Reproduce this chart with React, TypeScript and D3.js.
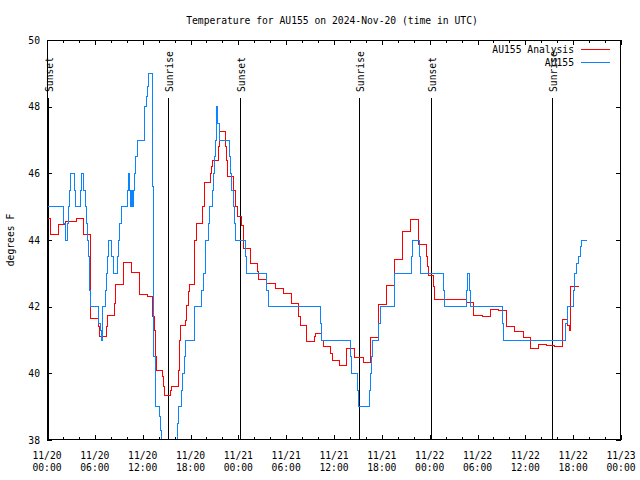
import React from "react";
import * as d3 from "d3";

// Hours since 2024-11-20 00:00 UTC
const analysisHours = [0, 0.46, 1.42, 1.5, 2.38, 3.73, 4.55, 5.48, 6.43, 6.56, 7.49, 7.61, 8.44, 8.62, 9.57, 10.62, 11.58, 12.63, 13.23, 13.46, 13.55, 13.76, 14.46, 14.59, 14.71, 15.43, 15.64, 16.47, 16.65, 16.77, 17.4, 17.56, 17.72, 17.85, 18.56, 18.69, 19.48, 19.73, 20.48, 20.66, 20.78, 21.49, 21.7, 22.42, 22.54, 22.67, 23.42, 23.62, 23.87, 24.42, 24.67, 25.53, 26.38, 26.59, 27.56, 28.6, 29.64, 30.61, 31.52, 31.74, 32.58, 33.53, 33.74, 34.46, 34.66, 35.62, 35.79, 36.67, 37.55, 38.51, 39.68, 40.6, 41.56, 42.61, 43.57, 44.59, 45.6, 46.63, 47.63, 47.76, 47.88, 48.42, 48.58, 49.71, 50.76, 52.65, 53.56, 54.65, 55.57, 56.61, 57.61, 58.7, 59.71, 60.65, 61.65, 62.68, 63.72, 64.64, 65.27, 65.48, 65.64, 66.73];
const analysisValues = [44.65, 44.18, 44.35, 44.48, 44.55, 44.65, 44.18, 41.65, 41.4, 41.1, 41.4, 41.75, 42.1, 42.68, 43.34, 43.02, 42.38, 42.3, 41.7, 41.3, 40.5, 40.1, 39.9, 39.6, 39.35, 39.5, 39.6, 40.1, 41.0, 41.45, 41.6, 42.05, 42.45, 42.68, 44.0, 44.5, 45.0, 45.73, 46.0, 46.2, 46.38, 46.8, 47.25, 46.8, 46.4, 45.92, 45.5, 45.0, 44.72, 44.45, 43.75, 43.3, 43.05, 42.83, 42.7, 42.55, 42.4, 42.1, 41.7, 41.43, 40.96, 41.1, 41.2, 41.0, 40.8, 40.6, 40.4, 40.25, 40.75, 40.47, 40.33, 41.08, 42.07, 42.65, 43.42, 44.25, 44.62, 43.88, 43.5, 43.2, 42.95, 42.6, 42.22, 42.23, 42.22, 42.12, 41.75, 41.72, 41.92, 41.88, 41.4, 41.27, 41.07, 40.75, 40.87, 40.84, 40.82, 41.62, 41.45, 41.3, 42.62, 42.62];

const obsHours = [0, 2.05, 2.26, 2.59, 2.72, 2.85, 2.97, 3.43, 3.55, 4.26, 4.39, 4.6, 4.77, 4.93, 5.1, 5.18, 5.31, 5.39, 5.48, 6.52, 6.73, 6.86, 6.94, 7.32, 7.44, 7.57, 7.74, 8.11, 8.28, 8.82, 8.95, 9.12, 9.32, 10.08, 10.2, 10.33, 10.5, 10.62, 10.75, 10.87, 11.0, 11.12, 11.29, 12.2, 12.29, 12.46, 12.58, 12.71, 13.21, 13.38, 13.67, 14.05, 14.21, 14.4, 16.35, 16.47, 16.81, 16.98, 17.23, 17.35, 18.44, 19.4, 19.65, 19.82, 19.9, 20.24, 20.4, 20.74, 20.86, 20.98, 21.15, 21.24, 21.32, 21.42, 21.58, 22.87, 23.04, 23.2, 23.37, 23.5, 23.62, 24.84, 25.05, 27.56, 27.77, 34.33, 34.46, 38.1, 38.22, 38.97, 39.1, 40.43, 40.6, 40.72, 40.89, 41.56, 41.77, 43.57, 43.65, 45.66, 45.87, 46.73, 46.9, 49.71, 49.92, 52.65, 52.73, 52.97, 53.06, 57.11, 57.24, 65.1, 65.27, 66.02, 66.19, 66.44, 66.64, 66.86, 67.06, 67.7];
const obsValues = [45, 44.5, 44, 44.5, 45, 45.5, 46, 45.5, 45, 45.5, 46, 45.5, 45, 44.5, 44, 43.5, 43, 42.5, 42, 41.5, 41.3, 41, 42, 42.5, 43, 43.5, 44, 43.5, 43, 43.5, 44, 44.5, 45, 45.5, 46, 45.5, 45, 45.5, 45, 45.5, 46, 46.5, 47, 47.5, 48, 48.3, 48.6, 49, 45.6, 40.5, 39, 38.7, 38.3, 37.5, 38.5, 39, 39.5, 40, 40.5, 41, 42, 42.5, 43, 43.5, 44, 44.5, 45, 45.5, 46, 46.5, 47, 47.5, 48, 47.5, 47, 46.5, 46, 45.5, 45, 44.5, 44, 43.5, 43, 42.5, 42, 41.5, 41, 40.5, 40, 39.5, 39, 39.5, 40, 40.5, 41, 41.5, 42, 42.5, 43, 43.5, 44, 43.5, 43, 42.5, 42, 42.5, 43, 42.5, 42, 41.5, 41, 41.5, 42, 42.5, 43, 43.3, 43.5, 43.8, 44, 44];

const sunHours = [0.16, 15.22, 24.25, 39.18, 48.21, 63.31];
const sunLabels = ["Sunset", "Sunrise", "Sunset", "Sunrise", "Sunset", "Sunrise"];

const xTickHours = [0, 6, 12, 18, 24, 30, 36, 42, 48, 54, 60, 66, 72];
const xTickDates = ["11/20", "11/20", "11/20", "11/20", "11/21", "11/21", "11/21", "11/21", "11/22", "11/22", "11/22", "11/22", "11/23"];
const xTickTimes = ["00:00", "06:00", "12:00", "18:00", "00:00", "06:00", "12:00", "18:00", "00:00", "06:00", "12:00", "18:00", "00:00"];
const yTicks = [38, 40, 42, 44, 46, 48, 50];

const seriesNames = ["AU155 Analysis", "AU155"];
const seriesColors = ["#ff0000", "#0a84ff"];

const W = 640, H = 480;
const L = 47, R = 621, T = 40, B = 440;
const FONT = "'DejaVu Sans Mono', monospace";
const FS = 9.7;

export default function App() {
  const x = d3.scaleLinear().domain([0, 72]).range([L, R]);
  const y = d3.scaleLinear().domain([38, 50]).range([B, T]);

  const line = d3
    .line<[number, number]>()
    .x((d) => x(d[0]))
    .y((d) => y(d[1]))
    .curve(d3.curveStepAfter);

  const analysis = analysisHours.map((h, i) => [h, analysisValues[i]] as [number, number]);
  const obs = obsHours.map((h, i) => [h, obsValues[i]] as [number, number]);

  const minor = d3.range(0, 73, 2).filter((h) => h % 6 !== 0);

  return (
    <svg
      width={W}
      height={H}
      style={{ position: "absolute", left: 0, top: 0, background: "#fff" }}
      fontFamily={FONT}
      fontSize={FS}
    >
      <rect x={0} y={0} width={W} height={H} fill="#fff" />
      <text x={332} y={24} textAnchor="middle" fill="#000">
        Temperature for AU155 on 2024-Nov-20 (time in UTC)
      </text>

      <defs>
        <clipPath id="plotclip">
          <rect x={L} y={T} width={R - L} height={B - T} />
        </clipPath>
      </defs>

      {/* y ticks */}
      {yTicks.map((v) => (
        <g key={"y" + v} shapeRendering="crispEdges">
          <line x1={L} x2={L + 5} y1={Math.round(y(v)) + 0.5} y2={Math.round(y(v)) + 0.5} stroke="#000" />
          <line x1={R - 5} x2={R} y1={Math.round(y(v)) + 0.5} y2={Math.round(y(v)) + 0.5} stroke="#000" />
          <text x={40} y={y(v) + 3.5} textAnchor="end" fill="#000">
            {v}
          </text>
        </g>
      ))}

      {/* x ticks */}
      {xTickHours.map((h, i) => (
        <g key={"x" + h} shapeRendering="crispEdges">
          <line x1={Math.round(x(h)) + 0.5} x2={Math.round(x(h)) + 0.5} y1={B} y2={B - 5} stroke="#000" />
          <line x1={Math.round(x(h)) + 0.5} x2={Math.round(x(h)) + 0.5} y1={T} y2={T + 5} stroke="#000" />
          <text x={x(h)} y={459} textAnchor="middle" fill="#000">
            {xTickDates[i]}
          </text>
          <text x={x(h)} y={471} textAnchor="middle" fill="#000">
            {xTickTimes[i]}
          </text>
        </g>
      ))}
      {minor.map((h) => (
        <g key={"m" + h} shapeRendering="crispEdges">
          <line x1={Math.round(x(h)) + 0.5} x2={Math.round(x(h)) + 0.5} y1={B} y2={B - 3} stroke="#000" />
          <line x1={Math.round(x(h)) + 0.5} x2={Math.round(x(h)) + 0.5} y1={T} y2={T + 3} stroke="#000" />
        </g>
      ))}

      {/* sunrise / sunset */}
      {sunHours.map((h, i) => (
        <g key={"s" + i}>
          <line
            x1={Math.round(x(h)) + 0.5}
            x2={Math.round(x(h)) + 0.5}
            y1={98}
            y2={B}
            stroke="#000"
            shapeRendering="crispEdges"
          />
          <text transform={`translate(${x(h) + 5},92) rotate(-90)`} textAnchor="start" fill="#000">
            {sunLabels[i]}
          </text>
        </g>
      ))}

      {/* data */}
      <g clipPath="url(#plotclip)" fill="none" shapeRendering="crispEdges">
        <path d={line(analysis) || ""} stroke={seriesColors[0]} strokeWidth={1} />
        <path d={line(obs) || ""} stroke={seriesColors[1]} strokeWidth={1} />
      </g>

      {/* border */}
      <rect x={L + 0.5} y={T + 0.5} width={R - L - 1} height={B - T - 1} fill="none" stroke="#000" shapeRendering="crispEdges" />

      {/* y label */}
      <text transform={`translate(14,240) rotate(-90)`} textAnchor="middle" fill="#000">
        degrees F
      </text>

      {/* legend */}
      {seriesNames.map((n, i) => (
        <g key={n}>
          <text x={574} y={53 + i * 13} textAnchor="end" fill="#000">
            {n}
          </text>
          <line
            x1={581}
            x2={610}
            y1={49.5 + i * 13}
            y2={49.5 + i * 13}
            stroke={seriesColors[i]}
            shapeRendering="crispEdges"
          />
        </g>
      ))}
    </svg>
  );
}
